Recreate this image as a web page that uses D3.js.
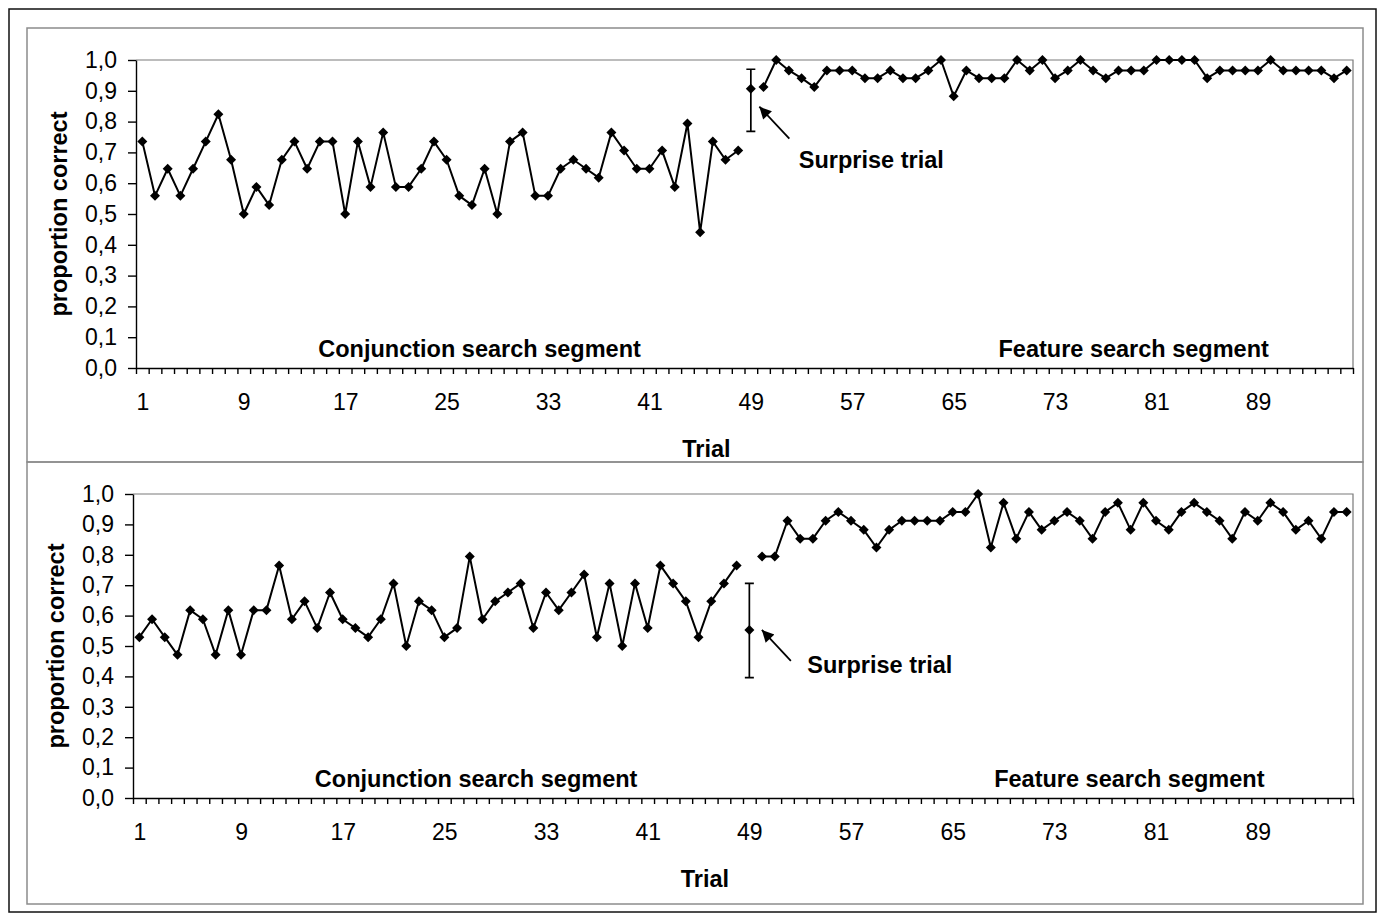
<!DOCTYPE html>
<html>
<head>
<meta charset="utf-8">
<script src="https://cdn.jsdelivr.net/npm/d3@7"></script>
<style>
  html, body { margin: 0; padding: 0; background: #fff; }
  svg { display: block; }
  text { font-family: "Liberation Sans", Arial, sans-serif; fill: #000; }
</style>
</head>
<body>
<div id="chart"></div>
<script>
// ---- data ----
const trialCount = 96;
const trialLabels = [1, 9, 17, 25, 33, 41, 49, 57, 65, 73, 81, 89];
const yTicks = [0, 0.1, 0.2, 0.3, 0.4, 0.5, 0.6, 0.7, 0.8, 0.9, 1.0];

// upper panel: trials 1-48 conjunction, 49 surprise, 50-96 feature
const topConjunction = [
  0.735, 0.559, 0.647, 0.559, 0.647, 0.735, 0.824, 0.676, 0.500, 0.588,
  0.529, 0.676, 0.735, 0.647, 0.735, 0.735, 0.500, 0.735, 0.588, 0.765,
  0.588, 0.588, 0.647, 0.735, 0.676, 0.559, 0.529, 0.647, 0.500, 0.735,
  0.765, 0.559, 0.559, 0.647, 0.676, 0.647, 0.618, 0.765, 0.706, 0.647,
  0.647, 0.706, 0.588, 0.794, 0.441, 0.735, 0.676, 0.706
];
const topSurprise = { trial: 49, value: 0.907, low: 0.768, high: 0.970 };
const topFeature = [
  0.912, 1.000, 0.966, 0.941, 0.912, 0.966, 0.966, 0.966, 0.941, 0.941,
  0.966, 0.941, 0.941, 0.966, 1.000, 0.882, 0.966, 0.941, 0.941, 0.941,
  1.000, 0.966, 1.000, 0.941, 0.966, 1.000, 0.966, 0.941, 0.966, 0.966,
  0.966, 1.000, 1.000, 1.000, 1.000, 0.941, 0.966, 0.966, 0.966, 0.966,
  1.000, 0.966, 0.966, 0.966, 0.966, 0.941, 0.966
];

// lower panel
const bottomConjunction = [
  0.529, 0.588, 0.529, 0.471, 0.618, 0.588, 0.471, 0.618, 0.471, 0.618,
  0.618, 0.765, 0.588, 0.647, 0.559, 0.676, 0.588, 0.559, 0.529, 0.588,
  0.706, 0.500, 0.647, 0.618, 0.529, 0.559, 0.794, 0.588, 0.647, 0.676,
  0.706, 0.559, 0.676, 0.618, 0.676, 0.735, 0.529, 0.706, 0.500, 0.706,
  0.559, 0.765, 0.706, 0.647, 0.529, 0.647, 0.706, 0.765
];
const bottomSurprise = { trial: 49, value: 0.553, low: 0.396, high: 0.706 };
const bottomFeature = [
  0.794, 0.794, 0.912, 0.853, 0.853, 0.912, 0.941, 0.912, 0.882, 0.824,
  0.882, 0.912, 0.912, 0.912, 0.912, 0.941, 0.941, 1.000, 0.824, 0.971,
  0.853, 0.941, 0.882, 0.912, 0.941, 0.912, 0.853, 0.941, 0.971, 0.882,
  0.971, 0.912, 0.882, 0.941, 0.971, 0.941, 0.912, 0.853, 0.941, 0.912,
  0.971, 0.941, 0.882, 0.912, 0.853, 0.941, 0.941
];

const conjLabel = 'Conjunction search segment';
const featLabel = 'Feature search segment';
const surpriseLabel = 'Surprise trial';

// ---- layout ----
const width = 1383, height = 918;
const panels = [
  {
    box: { top: 28, bottom: 462 },
    plot: { left: 136, right: 1353, top: 60, bottom: 368 },
    conj: topConjunction, feat: topFeature, surprise: topSurprise,
    // arrow tip / tail and text offsets relative to the surprise marker
    arrow: { tip: [8.5, 18], tail: [38.5, 50] }, note: [48, 79],
    conjAt: 27.6, featAt: 79.2
  },
  {
    box: { top: 462, bottom: 904 },
    plot: { left: 133, right: 1353, top: 494, bottom: 798 },
    conj: bottomConjunction, feat: bottomFeature, surprise: bottomSurprise,
    arrow: { tip: [12.5, 0], tail: [41.5, 31] }, note: [58, 43],
    conjAt: 27.5, featAt: 78.9
  }
];

const svg = d3.select('#chart')
  .append('svg')
  .attr('width', width)
  .attr('height', height);

svg.append('rect')
  .attr('width', width).attr('height', height)
  .attr('fill', '#fff');

svg.append('defs').append('marker')
  .attr('id', 'arrowhead')
  .attr('viewBox', '0 0 10 10')
  .attr('refX', 10).attr('refY', 5)
  .attr('markerUnits', 'userSpaceOnUse')
  .attr('markerWidth', 14).attr('markerHeight', 12)
  .attr('orient', 'auto')
  .append('path')
  .attr('d', 'M0,0L10,5L0,10Z')
  .attr('fill', '#000');

// outer frame
svg.append('rect')
  .attr('x', 9).attr('y', 9)
  .attr('width', 1367).attr('height', 903)
  .attr('fill', 'none')
  .attr('stroke', '#111')
  .attr('stroke-width', 1.5);

const diamond = 'M0,-5L5,0L0,5L-5,0Z';

panels.forEach(p => {
  const { plot, box } = p;

  // panel frame
  svg.append('rect')
    .attr('x', 27).attr('y', box.top)
    .attr('width', 1336).attr('height', box.bottom - box.top)
    .attr('fill', 'none')
    .attr('stroke', '#8c8c8c')
    .attr('stroke-width', 1.5);

  const x = d3.scaleLinear()
    .domain([0.5, trialCount + 0.5])
    .range([plot.left, plot.right]);
  const y = d3.scaleLinear()
    .domain([0, 1])
    .range([plot.bottom, plot.top]);

  const g = svg.append('g');

  // plot area top/right border (grey)
  g.append('path')
    .attr('d', `M${plot.left},${plot.top}H${plot.right}V${plot.bottom}`)
    .attr('fill', 'none')
    .attr('stroke', '#7a7a7a')
    .attr('stroke-width', 1.2);

  // y axis
  const yAxis = g.append('g')
    .attr('transform', `translate(${plot.left},0)`)
    .call(d3.axisLeft(y)
      .tickValues(yTicks)
      .tickSize(8)
      .tickSizeOuter(0)
      .tickPadding(11)
      .tickFormat(d => d.toFixed(1).replace('.', ',')));
  yAxis.selectAll('text').attr('font-size', 23).attr('font-family', null);

  // x axis: small ticks on category boundaries
  const xTicks = d3.range(0, trialCount + 1).map(i => i + 0.5);
  g.append('g')
    .attr('transform', `translate(0,${plot.bottom})`)
    .call(d3.axisBottom(x)
      .tickValues(xTicks)
      .tickSize(6)
      .tickSizeOuter(0)
      .tickFormat(''));

  // x labels on category centres
  const xLab = g.append('g')
    .attr('transform', `translate(0,${plot.bottom})`)
    .call(d3.axisBottom(x)
      .tickValues(trialLabels)
      .tickSize(0)
      .tickPadding(26)
      .tickFormat(d3.format('d')));
  xLab.select('.domain').remove();
  xLab.selectAll('text').attr('font-size', 23).attr('font-family', null);

  g.selectAll('.domain, .tick line')
    .attr('stroke', '#000')
    .attr('stroke-width', 1.4);

  // axis titles
  g.append('text')
    .attr('transform', `translate(${plot.left - 69},${(plot.top + plot.bottom) / 2}) rotate(-90)`)
    .attr('text-anchor', 'middle')
    .attr('font-size', 23.5)
    .attr('font-weight', 'bold')
    .text('proportion correct');

  g.append('text')
    .attr('x', x(45.5))
    .attr('y', plot.bottom + 89)
    .attr('text-anchor', 'middle')
    .attr('font-size', 23.5)
    .attr('font-weight', 'bold')
    .text('Trial');

  // series
  const line = d3.line()
    .x(d => x(d.trial))
    .y(d => y(d.value));

  const conj = p.conj.map((v, i) => ({ trial: i + 1, value: v }));
  const feat = p.feat.map((v, i) => ({ trial: p.surprise.trial + 1 + i, value: v }));

  [conj, feat].forEach(series => {
    g.append('path')
      .datum(series)
      .attr('d', line)
      .attr('fill', 'none')
      .attr('stroke', '#000')
      .attr('stroke-width', 2)
      .attr('stroke-linejoin', 'round');
  });

  // error bar for the surprise trial
  const s = p.surprise;
  const sx = x(s.trial), sy = y(s.value);
  g.append('path')
    .attr('d', `M${sx},${y(s.high)}V${y(s.low)}M${sx - 4.5},${y(s.high)}H${sx + 4.5}M${sx - 4.5},${y(s.low)}H${sx + 4.5}`)
    .attr('fill', 'none')
    .attr('stroke', '#000')
    .attr('stroke-width', 1.7);

  g.selectAll('path.marker')
    .data([...conj, s, ...feat])
    .join('path')
    .attr('class', 'marker')
    .attr('d', diamond)
    .attr('transform', d => `translate(${x(d.trial)},${y(d.value)})`)
    .attr('fill', '#000');

  // annotations
  g.append('line')
    .attr('x1', sx + p.arrow.tail[0]).attr('y1', sy + p.arrow.tail[1])
    .attr('x2', sx + p.arrow.tip[0]).attr('y2', sy + p.arrow.tip[1])
    .attr('stroke', '#000')
    .attr('stroke-width', 1.8)
    .attr('marker-end', 'url(#arrowhead)');

  g.append('text')
    .attr('x', sx + p.note[0])
    .attr('y', sy + p.note[1])
    .attr('font-size', 23.5)
    .attr('font-weight', 'bold')
    .text(surpriseLabel);

  g.append('text')
    .attr('x', x(p.conjAt))
    .attr('y', plot.bottom - 11)
    .attr('text-anchor', 'middle')
    .attr('font-size', 23.5)
    .attr('font-weight', 'bold')
    .text(conjLabel);

  g.append('text')
    .attr('x', x(p.featAt))
    .attr('y', plot.bottom - 11)
    .attr('text-anchor', 'middle')
    .attr('font-size', 23.5)
    .attr('font-weight', 'bold')
    .text(featLabel);
});
</script>
</body>
</html>
